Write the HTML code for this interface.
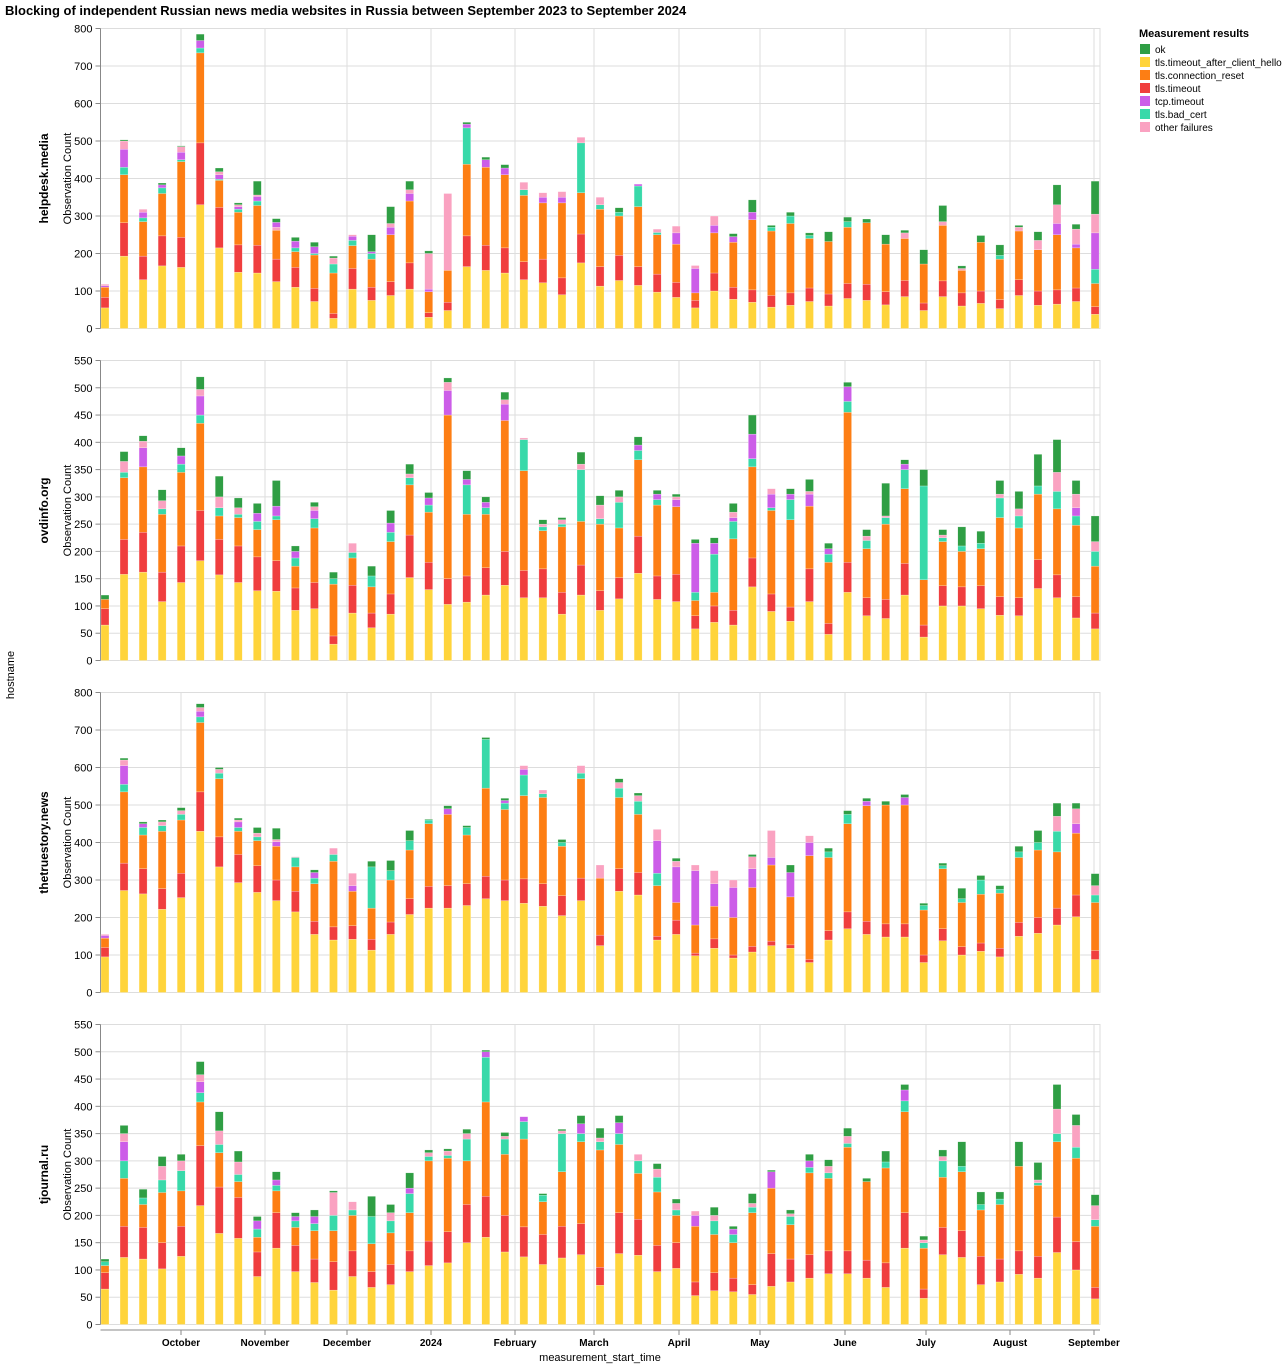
<!DOCTYPE html>
<html><head><meta charset="utf-8"><style>
body{margin:0;background:#fff;font-family:"Liberation Sans",Arial,sans-serif}
</style></head><body>
<svg id="s" width="1287" height="1367" xmlns="http://www.w3.org/2000/svg" font-family="Liberation Sans, Arial, sans-serif"></svg>
<script>
const C={y:"#ffd43b",r:"#f03e3e",o:"#fd7e14",p:"#cc5de8",t:"#38d9a9",k:"#faa2c1",g:"#2f9e44"};
const P=[
{name:"helpdesk.media",max:800,step:100,d:`y55 r83 o110 p114 k118|y193 r282 o410 t430 p478 k500 g503|y130 r193 o285 t295 p310 k318|y167 r247 o360 t375 p383 g388|y163 r243 o445 t450 p470 k485 g487|y330 r495 o735 t748 p768 g785|y215 r323 o395 t398 p410 k418 g428|y150 r223 o310 t318 p325 k330 g335|y148 r222 o328 t340 p352 k356 g393|y125 r185 o262 k270 p283 g293|y110 r163 o205 t215 p233 g243|y72 r107 o196 t200 p218 g230|y27 r40 o148 t172 k188 g193|y105 r160 o221 t235 p246 k250|y75 r110 o185 t200 p205 g250|y88 r125 o250 p270 k280 g325|y105 r175 o340 p360 k370 g393|y30 r42 o98 p105 k200 g207|y48 r70 o155 k360|y165 r247 o438 t535 p545 g550|y155 r222 o430 p450 g457|y148 r215 o410 p428 g437|y130 r178 o355 t370 k390|y122 r185 o335 p350 k362|y90 r135 o335 p350 k365|y175 r252 o362 t495 k510|y113 r165 o318 t330 k350|y128 r195 o300 t310 g322|y115 r165 o325 t380 p385|y97 r145 o250 t256 k265|y83 r123 o225 p255 k273|y55 r75 o95 p160 k168|y100 r148 o255 p275 k300|y78 r110 o230 p245 g253|y70 r103 o290 p310 g343|y57 r88 o260 t270 g275|y62 r95 o280 t300 g310|y72 r108 o240 t248 g255|y60 r92 o232 g258|y80 r120 o270 t285 g297|y75 r118 o282 g292|y63 r98 o225 g250|y85 r128 o240 k255 g262|y48 r68 o172 g210|y85 r127 o275 k285 g328|y60 r95 o155 k160 g167|y67 r100 o230 g248|y53 r77 o185 t195 g223|y88 r130 o260 k270 g275|y62 r100 o210 k235 g258|y65 r103 o250 p280 k330 g383|y72 r108 o215 p225 k265 g278|y38 r58 o120 t158 p255 k305 g393`},
{name:"ovdinfo.org",max:550,step:50,d:`y65 r95 o112 g120|y158 r222 o335 t345 k365 g383|y162 r235 o355 p390 k402 g412|y108 r162 o268 t278 k293 g313|y143 r210 o345 t360 p375 g390|y183 r275 o435 t450 p485 k497 g520|y157 r222 o265 t280 k300 g338|y143 r210 o262 t268 k280 g298|y128 r190 o240 t255 p270 g288|y127 r183 o258 t265 p283 g330|y92 r133 o173 t188 p200 g210|y95 r143 o243 t260 p275 k282 g290|y30 r45 o140 t150 g162|y87 r138 o188 t198 k215|y60 r87 o135 t155 g173|y85 r122 o218 t235 p252 g275|y152 r230 o322 t335 k342 g360|y130 r180 o272 t285 p298 g308|y103 r150 o450 p495 k510 g518|y107 r155 o268 t322 p332 g348|y120 r170 o268 t280 p290 g300|y138 r200 o440 p470 k478 g492|y115 r165 o348 t405 k408|y115 r168 o238 t245 k250 g258|y85 r125 o245 t250 k258 g262|y120 r175 o255 t350 k360 g382|y92 r128 o250 t260 k285 g302|y113 r152 o243 t290 k300 g312|y160 r228 o368 t385 p395 g410|y112 r155 o285 t295 p305 g312|y108 r158 o282 p295 k300 g305|y58 r82 o110 t125 p215 g222|y70 r100 o125 t195 p215 g225|y65 r92 o223 t255 p262 k272 g288|y135 r188 o355 t370 p415 g450|y90 r122 o275 t280 p305 k315|y72 r98 o258 t295 p305 g315|y108 r168 o283 p305 k310 g332|y48 r68 o180 t195 p205 g215|y125 r180 o455 t475 p502 g510|y82 r115 o205 t220 k228 g240|y77 r112 o250 t262 k265 g325|y120 r178 o315 t350 p360 g368|y43 r65 o148 t320 g350|y100 r137 o218 t225 k230 g240|y100 r135 o200 t210 g245|y95 r137 o205 t215 g237|y83 r117 o262 t298 k305 g330|y82 r115 o243 t265 k278 g310|y132 r185 o305 t320 g378|y115 r157 o278 t310 k345 g405|y78 r117 o248 t265 p280 k305 g330|y58 r87 o173 t200 k218 g265`},
{name:"thetruestory.news",max:800,step:100,d:`y95 r120 o145 p152 k155|y272 r345 o535 t555 p605 k620 g625|y263 r330 o420 t440 p450 g455|y222 r277 o430 t445 k455 g460|y253 r318 o460 t475 k485 g493|y430 r535 o720 t735 p750 k760 g770|y335 r415 o570 t585 k595 g600|y293 r368 o430 t440 p455 k460 g465|y267 r338 o405 t415 k425 g440|y245 r300 o390 p402 k408 g438|y215 r270 o335 t360 k362|y155 r190 o290 t305 p320 g327|y140 r175 o350 t368 k385|y142 r178 o270 p285 k318|y113 r142 o225 t335 g350|y155 r188 o300 t325 g352|y208 r250 o380 t405 g432|y225 r283 o450 t460 g462|y225 r285 o475 p490 g498|y232 r290 o420 t440 g445|y250 r310 o545 t675 g680|y245 r300 o488 t505 p512 g518|y238 r303 o525 t580 p595 k605|y230 r290 o520 t530 k540|y205 r258 o390 t400 g408|y245 r305 o570 t585 k605|y125 r153 o305 k340|y270 r330 o520 t545 k560 g570|y260 r320 o475 t510 k525 g532|y140 r150 o285 t318 p405 k435|y155 r193 o240 p335 k350 g358|y98 r105 o180 p325 k340|y118 r143 o230 p290 k325|y92 r100 o200 p280 k300|y108 r123 o280 p330 k362 g368|y125 r137 o340 p360 k432|y118 r127 o255 p320 g340|y80 r88 o365 p400 k418|y140 r165 o360 t375 g385|y170 r215 o450 t475 g485|y155 r190 o498 p510 g518|y148 r183 o500 g510|y148 r183 o500 p520 g528|y80 r100 o220 t232 g238|y138 r170 o330 t338 g345|y100 r122 o240 t250 g278|y110 r132 o262 t300 g312|y95 r118 o265 t275 g285|y150 r187 o360 t375 g390|y158 r200 o380 t400 g432|y180 r225 o375 t430 k470 g505|y202 r260 o425 p450 k490 g505|y88 r112 o240 t260 k285 g317`},
{name:"tjournal.ru",max:550,step:50,d:`y65 r95 o108 t115 g120|y123 r180 o268 t300 p335 k350 g365|y120 r178 o220 t232 g248|y102 r150 o242 t265 k290 g308|y125 r180 o245 t282 k300 g312|y218 r328 o408 t425 p445 k458 g482|y167 r252 o315 t330 k355 g390|y158 r233 o262 t275 k298 g318|y88 r133 o160 t175 p190 g198|y140 r205 o245 t255 p265 g280|y97 r145 o178 t190 p198 g205|y77 r120 o172 t185 p198 g210|y63 r115 o172 t200 k242 g245|y88 r135 o200 t210 k225|y68 r97 o148 t198 g235|y73 r110 o168 t190 k205 g220|y97 r135 o205 t240 p250 g278|y108 r153 o300 t308 k315 g320|y113 r170 o305 t310 k318 g322|y150 r220 o300 t340 k350 g358|y160 r235 o408 t490 p500 g503|y133 r200 o312 t340 k345 g352|y124 r179 o340 t372 p381|y110 r165 o225 t237 g240|y122 r180 o280 t350 k355 g358|y128 r185 o335 t350 p368 g383|y72 r105 o320 t335 k342 g360|y130 r205 o330 t350 p370 g383|y127 r193 o277 t300 k312|y97 r145 o243 t270 k285 g295|y103 r150 o200 t210 k222 g230|y53 r78 o180 p200 k208|y62 r95 o165 t190 k200 g215|y60 r85 o150 t165 p175 g180|y55 r73 o205 t215 k222 g240|y70 r130 o250 p280 g283|y78 r120 o183 t198 k203 g210|y85 r128 o278 t288 p300 g312|y93 r135 o268 t278 k290 g302|y93 r135 o325 t332 k345 g360|y85 r118 o262 g268|y68 r113 o287 t298 g318|y140 r205 o390 t410 p430 g440|y48 r65 o140 t150 k155 g162|y128 r178 o270 t300 k308 g320|y123 r172 o280 t290 g335|y73 r125 o210 t220 g243|y78 r120 o220 t230 g243|y92 r135 o290 g335|y85 r125 o255 t260 k265 g297|y132 r197 o335 t350 k395 g440|y100 r152 o305 t325 k365 g385|y47 r68 o180 t192 k218 g238`}
];
const ticks=[["October",181],["November",265],["December",347],["2024",431],["February",515],["March",594],["April",679],["May",760],["June",845],["July",926],["August",1010],["September",1094]];
let h='<text x="5" y="15" font-size="13" font-weight="bold">Blocking of independent Russian news media websites in Russia between September 2023 to September 2024</text>';
const L=100.5,R=1100;
P.forEach((p,i)=>{
 const top=28.5+i*332,bot=top+300;
 const Y=v=>bot-v/p.max*300;
 h+=`<rect x="${L}" y="${top}" width="${R-L}" height="300" fill="none" stroke="#ddd"/>`;
 for(let v=0;v<=p.max;v+=p.step){const y=Y(v);h+=`<line x1="${L}" x2="${R}" y1="${y}" y2="${y}" stroke="#ddd"/><line x1="${L-5}" x2="${L}" y1="${y}" y2="${y}" stroke="#888"/><text x="${L-8}" y="${y+4}" font-size="11" text-anchor="end">${v}</text>`;}
 ticks.forEach(t=>h+=`<line x1="${t[1]}" x2="${t[1]}" y1="${top}" y2="${bot}" stroke="#ddd"/>`);
 h+=`<line x1="${L}" x2="${L}" y1="${top}" y2="${bot}" stroke="#888"/>`;
 let bars=p.d.split("|");
 bars.forEach((b,j)=>{
  const cx=105+j*19.04;let prev=0;
  b.trim().split(/\s+/).forEach(s=>{const c=s[0],v=+s.slice(1);
   h+=`<rect x="${cx-4}" y="${Y(v)}" width="8" height="${Y(prev)-Y(v)}" fill="${C[c]}" stroke="#fff" stroke-width="0.4" stroke-opacity="0.6"/>`;prev=v;});
 });
 const my=top+150;
 h+=`<text transform="translate(71,${my}) rotate(-90)" font-size="11" text-anchor="middle">Observation Count</text>`;
 h+=`<text transform="translate(48,${my}) rotate(-90)" font-size="12" font-weight="bold" text-anchor="middle">${p.name}</text>`;
});
h+=`<line x1="${L}" x2="${R}" y1="1330" y2="1330" stroke="#888"/>`;
ticks.forEach(t=>h+=`<line x1="${t[1]}" x2="${t[1]}" y1="1330" y2="1335" stroke="#888"/><text x="${t[1]}" y="1346" font-size="10" font-weight="bold" text-anchor="middle">${t[0]}</text>`);
h+=`<text x="600" y="1361" font-size="11" text-anchor="middle">measurement_start_time</text>`;
h+=`<text transform="translate(14,675) rotate(-90)" font-size="11" text-anchor="middle">hostname</text>`;
h+=`<text x="1139" y="37" font-size="11" font-weight="bold">Measurement results</text>`;
[["g","ok"],["y","tls.timeout_after_client_hello"],["o","tls.connection_reset"],["r","tls.timeout"],["p","tcp.timeout"],["t","tls.bad_cert"],["k","other failures"]].forEach((e,i)=>{
 const y=49+i*13;h+=`<rect x="1140" y="${y-5}" width="10" height="10" fill="${C[e[0]]}"/><text x="1155" y="${y+4}" font-size="10">${e[1]}</text>`;});
document.getElementById("s").innerHTML=h;
</script>
</body></html>
